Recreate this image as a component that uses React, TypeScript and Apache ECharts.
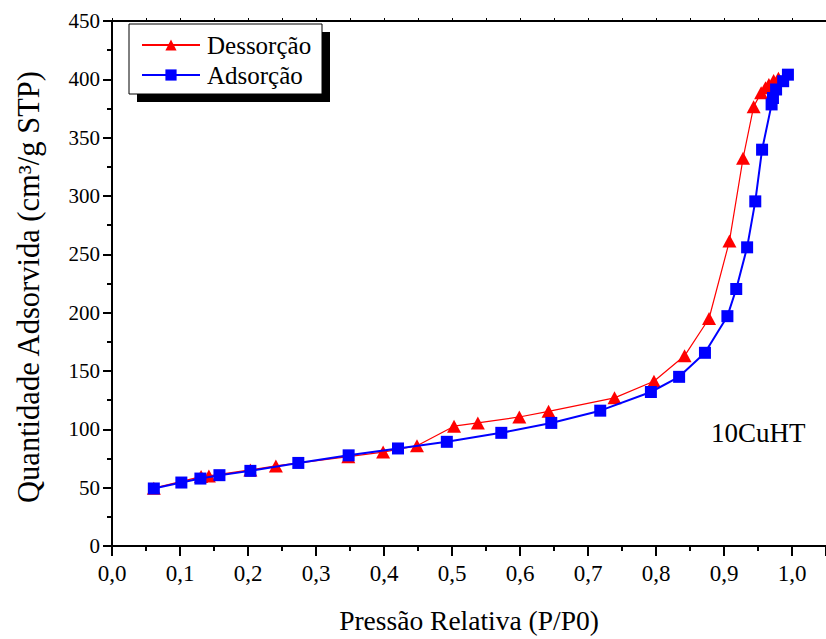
import React, { useEffect, useRef } from "react";
import * as echarts from "echarts";

const adsX = [0.0615, 0.102, 0.130, 0.158, 0.2035, 0.274, 0.348, 0.4206, 0.4924, 0.5725, 0.646, 0.718, 0.7925, 0.834, 0.872, 0.905, 0.918, 0.934, 0.946, 0.956, 0.970, 0.972, 0.9766, 0.987, 0.994];
const adsY = [49.3, 54.4, 57.8, 60.7, 64.4, 71.2, 77.7, 83.6, 89.3, 97, 105.5, 116, 132, 145, 165.6, 197, 220.3, 256, 295.4, 339.7, 378.5, 384, 391.3, 398.4, 404];

const desX = [0.0615, 0.131, 0.1425, 0.2035, 0.241, 0.3475, 0.3987, 0.4485, 0.503, 0.538, 0.599, 0.642, 0.739, 0.797, 0.842, 0.878, 0.908, 0.928, 0.9436, 0.9546, 0.961, 0.966, 0.973, 0.98];
const desY = [49.6, 59.5, 60.1, 65.2, 68.6, 76.6, 80.5, 85.9, 102.7, 105.5, 110.6, 115.4, 127, 141.2, 163, 195, 261.4, 332.3, 376.6, 388.5, 392.7, 395.5, 399, 401];

const seriesNames = ["Dessorção", "Adsorção"];
const sampleLabel = "10CuHT";
const xName = "Pressão Relativa (P/P0)";
const yName = "Quantidade Adsorvida (cm³/g STP)";

const FONT = "'Liberation Serif', 'Times New Roman', serif";

export default function App() {
  const ref = useRef<HTMLDivElement>(null);
  useEffect(() => {
    if (!ref.current) return;
    const chart = echarts.init(ref.current, undefined, { renderer: "svg" });
    const axisLine = { lineStyle: { color: "#000", width: 2 } };
    chart.setOption({
      animation: false,
      backgroundColor: "#fff",
      textStyle: { fontFamily: FONT },
      grid: { left: 112, top: 21, width: 717, height: 529 },
      legend: {
        data: seriesNames,
        orient: "vertical",
        left: 141,
        top: 30,
        padding: 0,
        itemWidth: 58,
        itemHeight: 14,
        itemGap: 0,
        textStyle: { fontFamily: FONT, fontSize: 25, color: "#000", lineHeight: 30, padding: [0, 0, 0, 2] },
        z: 10,
      },
      graphic: [
        { type: "rect", shape: { x: 137, y: 32, width: 193, height: 70 }, style: { fill: "#000" }, z: 5 },
        { type: "rect", shape: { x: 129, y: 24, width: 193, height: 70 }, style: { fill: "#fff", stroke: "#000", lineWidth: 1 }, z: 6 },
        { type: "text", left: 711, top: 419, style: { text: sampleLabel, font: `27px ${FONT}`, fill: "#000" }, z: 6 },
        {
          type: "text",
          x: 29,
          y: 287,
          rotation: Math.PI / 2,
          style: { text: yName, font: `30.5px ${FONT}`, fill: "#000", align: "center", verticalAlign: "middle" },
          z: 6,
        },
      ],
      xAxis: [
        {
          type: "value",
          min: 0,
          max: 1.05,
          interval: 0.1,
          name: xName,
          nameLocation: "middle",
          nameGap: 60,
          nameTextStyle: { fontFamily: FONT, fontSize: 27.5, color: "#000" },
          axisLine,
          axisTick: { length: 10, lineStyle: { color: "#000", width: 2 } },
          minorTick: { show: true, splitNumber: 2, length: 5, lineStyle: { color: "#000", width: 2 } },
          splitLine: { show: false },
          axisLabel: {
            fontFamily: FONT,
            fontSize: 23,
            color: "#000",
            margin: 16,
            showMaxLabel: false,
            formatter: (v: number) => v.toFixed(1).replace(".", ","),
          },
        },
        {
          type: "value",
          position: "top",
          min: 0,
          max: 1.05,
          interval: 0.1,
          axisLine,
          axisTick: { length: 3, lineStyle: { color: "#000", width: 1 } },
          minorTick: { show: true, splitNumber: 2, length: 3, lineStyle: { color: "#000", width: 1 } },
          splitLine: { show: false },
          axisLabel: { show: false },
        },
      ],
      yAxis: {
        type: "value",
        min: 0,
        max: 450,
        interval: 50,
        axisLine,
        axisTick: { length: 9, lineStyle: { color: "#000", width: 2 } },
        minorTick: { show: true, splitNumber: 2, length: 5, lineStyle: { color: "#000", width: 2 } },
        splitLine: { show: false },
        axisLabel: { fontFamily: FONT, fontSize: 21, color: "#000", margin: 12 },
      },
      series: [
        {
          name: seriesNames[0],
          type: "line",
          data: desX.map((x, i) => [x, desY[i]]),
          symbol: "triangle",
          symbolSize: [14, 13],
          lineStyle: { color: "#ff0000", width: 1.2 },
          itemStyle: { color: "#ff0000" },
          z: 2,
        },
        {
          name: seriesNames[1],
          type: "line",
          data: adsX.map((x, i) => [x, adsY[i]]),
          symbol: "rect",
          symbolSize: 12,
          lineStyle: { color: "#0000ff", width: 2 },
          itemStyle: { color: "#0000ff" },
          z: 3,
        },
      ],
    });
    return () => chart.dispose();
  }, []);
  return <div ref={ref} style={{ position: "fixed", left: 0, top: 0, width: 826, height: 639 }} />;
}
